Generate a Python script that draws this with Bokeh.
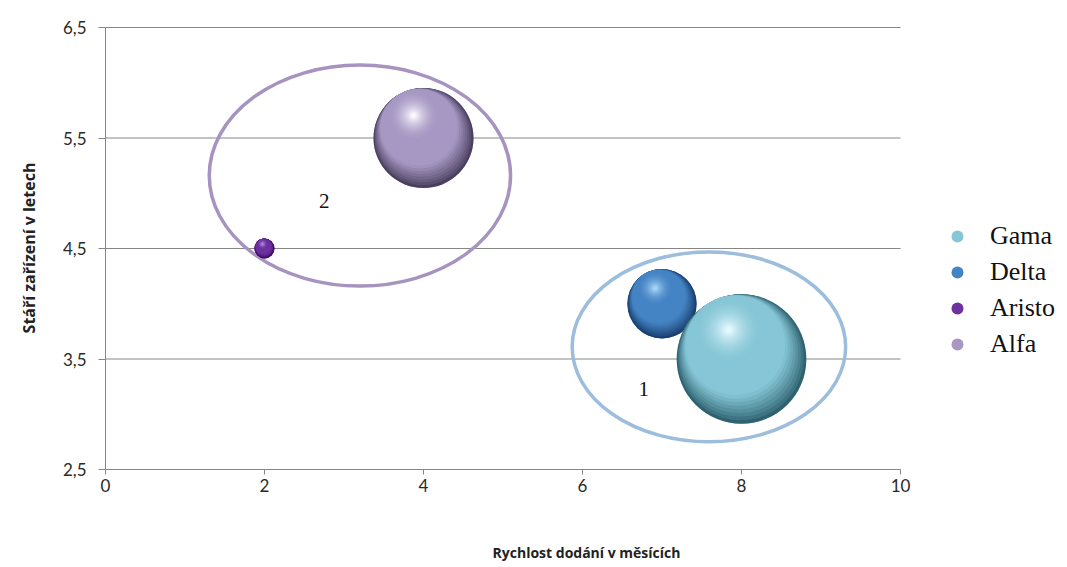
import math

from bokeh.plotting import figure
from bokeh.models import (ColumnDataSource, FixedTicker, Legend, LegendItem,
                          Range1d)
from bokeh.core.properties import value
from bokeh.embed import file_html
from bokeh.resources import INLINE

# ---- data -------------------------------------------------------------
series = ["Gama", "Delta", "Aristo", "Alfa"]
speed = [8, 7, 2, 4]            # Rychlost dodání v měsících
age = [3.5, 4.0, 4.5, 5.5]      # Stáří zařízení v letech
bubble = [42, 12, 1, 25]        # bubble size (area)

# sphere palettes: rim, body, highlight
rim = ["#2f6270", "#183f6e", "#35095a", "#4a3f5e"]
body = ["#86c6d6", "#4584c4", "#6e31a0", "#a698c3"]
light = ["#e4f9fe", "#a8d4f6", "#b894dc", "#fbf8fe"]

# cluster groups
group_labels = ["1", "2"]
group_x = [7.59, 3.2]
group_y = [3.61, 5.16]
group_w = [3.44, 3.79]
group_h = [1.72, 2.0]
group_label_x = [6.77, 2.75]
group_label_y = [3.23, 4.93]
group_color = ["#9dbddd", "#a693bf"]

x_ticks = [0, 2, 4, 6, 8, 10]
y_ticks = [2.5, 3.5, 4.5, 5.5, 6.5]
y_tick_text = {t: f"{t:.1f}".replace(".", ",") for t in y_ticks}

# ---- figure -----------------------------------------------------------
W, H = 1067, 567
BL, BT, BB = 105, 26, 98
PLOT_W = 795                      # width of the 0..10 scale in px
X0, X1, Y0, Y1 = 0, 10, 2.5, 6.5
FW = W - BL
FH = H - BT - BB
X_VIEW = X0 + (X1 - X0) * FW / PLOT_W   # room on the right for the legend
px_x = (X_VIEW - X0) / FW
px_y = (Y1 - Y0) / (FH - 1)
Y_VIEW = Y1 + px_y                       # one pixel above the top grid line

p = figure(width=W, height=H, output_backend="svg", toolbar_location=None,
           x_range=Range1d(X0, X_VIEW), y_range=Range1d(Y0, Y_VIEW),
           min_border_left=BL, min_border_right=0,
           min_border_top=BT, min_border_bottom=BB)
p.outline_line_color = None
p.background_fill_color = "white"
p.border_fill_color = "white"

AXIS_COLOR = "#868686"
TICK_FONT = "Lato"

# horizontal grid lines span only the 0..10 scale
p.xgrid.visible = False
p.ygrid.visible = False
p.segment(x0=[X0] * len(y_ticks), x1=[X1] * len(y_ticks),
          y0=y_ticks, y1=y_ticks, line_color=AXIS_COLOR, line_width=1)

for ax in (p.xaxis[0], p.yaxis[0]):
    ax.axis_line_color = AXIS_COLOR
    ax.major_tick_line_color = AXIS_COLOR
    ax.minor_tick_line_color = None
    ax.major_tick_in = 0
    ax.major_tick_out = 7
    ax.major_label_text_font = TICK_FONT
    ax.major_label_text_font_size = "17px"
    ax.major_label_text_color = "#2a2a2a"
    ax.axis_label_text_font = "Open Sans"
    ax.axis_label_text_font_style = "bold"
    ax.axis_label_text_font_size = "14px"
    ax.axis_label_text_color = "#222222"

p.xaxis.ticker = FixedTicker(ticks=x_ticks)
p.xaxis.bounds = (X0, X1)
p.xaxis.major_tick_out = 5
p.xaxis.major_label_standoff = 4
p.xaxis.axis_label = "Rychlost dodání v měsících"
p.xaxis.axis_label_standoff = 48

p.yaxis.ticker = FixedTicker(ticks=y_ticks)
p.yaxis.bounds = (Y0, Y1)
p.yaxis.major_label_overrides = y_tick_text
p.yaxis.major_label_standoff = 12
p.yaxis.axis_label = "Stáří zařízení v letech"
p.yaxis.axis_label_text_font_size = "16px"
p.yaxis.axis_label_standoff = 20


# ---- group ellipses and labels ---------------------------------------
p.ellipse(x=group_x, y=group_y, width=group_w, height=group_h,
          fill_color=None, line_color=group_color, line_width=3.5)
p.text(x=group_label_x, y=group_label_y, text=group_labels,
       text_font=value("Liberation Serif"), text_font_size="21px",
       text_color="#111111", text_align="center", text_baseline="middle")


# ---- shaded spheres ---------------------------------------------------
def hex_rgb(h):
    h = h.lstrip("#")
    return tuple(int(h[i:i + 2], 16) for i in (0, 2, 4))


def mix(a, b, t):
    t = min(max(t, 0.0), 1.0)
    ca, cb = hex_rgb(a), hex_rgb(b)
    return "#%02x%02x%02x" % tuple(round(ca[k] + (cb[k] - ca[k]) * t)
                                   for k in range(3))


SCALE = 10.0            # px of radius per sqrt(size)
HL = (-0.2, 0.45)       # highlight offset, in radii (screen, y up)
N_RIM, N_GLOW = 18, 26
order = [1, 0, 2, 3]    # Delta sits behind Gama
legend_refs = {}
for i in order:
    r = SCALE * math.sqrt(bubble[i])
    hx, hy = HL[0] * r, HL[1] * r
    hd = math.hypot(hx, hy)
    xs, ys, sizes, cols = [], [], [], []
    # shadow crescent: circles slide toward the highlight, tangent at the lit edge
    for k in range(N_RIM):
        t = k / (N_RIM - 1)
        xs.append(speed[i] + hx * t * px_x)
        ys.append(age[i] + hy * t * px_y)
        sizes.append(2 * (r - hd * t))
        cols.append(mix(rim[i], body[i], (t / 0.45) ** 0.85))
    # glow around the highlight
    r0 = r - hd
    for k in range(1, N_GLOW):
        s = k / (N_GLOW - 1)
        xs.append(speed[i] + hx * px_x)
        ys.append(age[i] + hy * px_y)
        sizes.append(2 * r0 * (1 - 0.93 * s))
        cols.append(mix(body[i], light[i], s ** 1.8))
    base = p.scatter(x=[speed[i]], y=[age[i]], size=[2 * r],
                     fill_color=body[i], line_color=None)
    src = ColumnDataSource(dict(x=xs, y=ys, size=sizes, color=cols))
    p.scatter(x="x", y="y", size="size", fill_color="color",
              line_color=None, source=src)
    legend_refs[series[i]] = base

legend = Legend(
    items=[LegendItem(label=s, renderers=[legend_refs[s]]) for s in series],
    location=(837, 110), orientation="vertical",
    label_text_font="Liberation Serif", label_text_font_size="26px",
    label_text_color="#111111", glyph_width=30, glyph_height=30,
    label_standoff=18, spacing=6, padding=0, margin=0,
    border_line_color=None, background_fill_alpha=0)
p.add_layout(legend, "center")

open("out.html", "w").write(file_html(p, INLINE))
